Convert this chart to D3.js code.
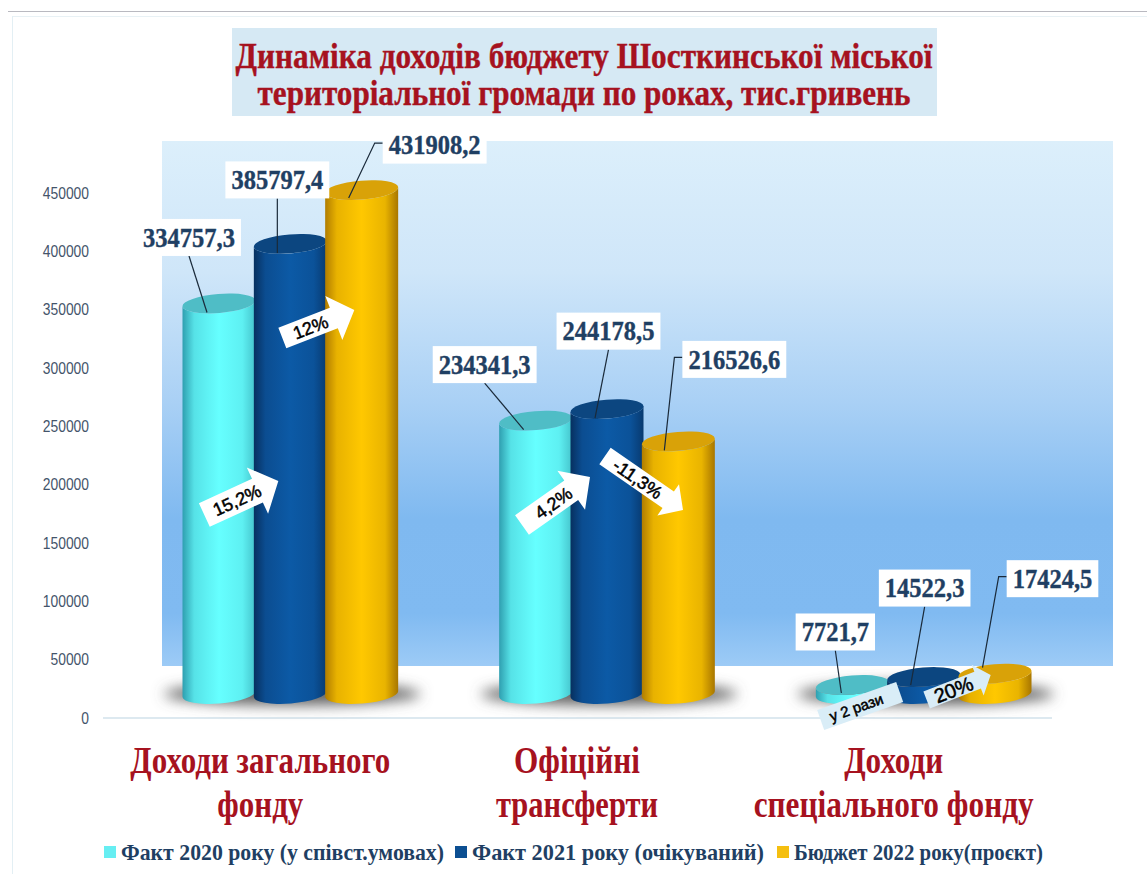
<!DOCTYPE html>
<html>
<head>
<meta charset="utf-8">
<script src="https://cdn.jsdelivr.net/npm/d3@7"></script>
<style>
  html, body { margin: 0; padding: 0; background: #fff; overflow: hidden; }
  svg { display: block; }
</style>
</head>
<body>
<script>
// Chart data
var categories = ["Доходи загального фонду", "Офіційні трансферти", "Доходи спеціального фонду"];
var seriesNames = ["Факт 2020 року (у співст.умовах)", "Факт 2021 року (очікуваний)", "Бюджет 2022 року(проєкт)"];
var fact2020 = [334757.3, 234341.3, 7721.7];
var fact2021 = [385797.4, 244178.5, 14522.3];
var budget2022 = [431908.2, 216526.6, 17424.5];
var yTicks = [0, 50000, 100000, 150000, 200000, 250000, 300000, 350000, 400000, 450000];
var titleLines = ["Динаміка доходів бюджету Шосткинської міської", "територіальної громади по роках, тис.гривень"];
var categoryLines = [["Доходи загального", "фонду"], ["Офіційні", "трансферти"], ["Доходи", "спеціального фонду"]];
var changeLabels = ["15,2%", "12%", "4,2%", "-11,3%", "у 2 рази", "20%"];

var width = 1147;
var height = 874;
var depth = 24; // the 3D floor sits this far above the value axis
var rx = 36.5;
var ry = 9.5;
var tilt = 3; // ellipses lean a little, left end lower than right
var serif = "'Liberation Serif', 'DejaVu Serif', serif";
var sans = "'Liberation Sans', Arial, sans-serif";

var svg = d3.select("body").append("svg").attr("width", width).attr("height", height);
var defs = svg.append("defs");

// Scales
var y = d3.scaleLinear().domain([0, 450000]).range([718, 193]);
var x0 = d3.scaleBand().domain(categories).range([132, 1082]);
var x1 = d3.scaleBand().domain(seriesNames).range([-107, 107]);

// Cylinder colours: side edge, side centre, far edge, top
var palette = [
  { left: "#2f9fb0", mid: "#66ffff", right: "#45c4cc", top: "#4fbdc6", key: "#66eef2" },
  { left: "#07305f", mid: "#0c5aa6", right: "#083a70", top: "#0c4680", key: "#0c4f92" },
  { left: "#b17d00", mid: "#ffc800", right: "#a87600", top: "#d9a208", key: "#f5bf10" }
];

palette.forEach(function (c, i) {
  var g = defs.append("linearGradient").attr("id", "side" + i);
  g.append("stop").attr("offset", "0%").attr("stop-color", c.left);
  g.append("stop").attr("offset", "16%").attr("stop-color", d3.interpolateRgb(c.left, c.mid)(0.7));
  g.append("stop").attr("offset", "50%").attr("stop-color", c.mid);
  g.append("stop").attr("offset", "82%").attr("stop-color", d3.interpolateRgb(c.right, c.mid)(0.75));
  g.append("stop").attr("offset", "100%").attr("stop-color", c.right);
});

var panelGradient = defs.append("linearGradient")
  .attr("id", "panel").attr("x1", 0).attr("y1", 0).attr("x2", 0).attr("y2", 1);
[["0%", "#dceffb"], ["25%", "#cfe6f9"], ["50%", "#a9d0f5"], ["72%", "#7fb9f0"], ["90%", "#80baf1"], ["100%", "#9dcbf6"]]
  .forEach(function (s) {
    panelGradient.append("stop").attr("offset", s[0]).attr("stop-color", s[1]);
  });

defs.append("filter").attr("id", "blur")
  .attr("x", "-20%").attr("y", "-100%").attr("width", "140%").attr("height", "300%")
  .append("feGaussianBlur").attr("stdDeviation", 7);

// Page frame
svg.append("line").attr("x1", 8).attr("x2", width).attr("y1", 11.5).attr("y2", 11.5)
  .attr("stroke", "#b9b9c0").attr("stroke-width", 1);
svg.append("line").attr("x1", 12).attr("x2", width).attr("y1", 16.5).attr("y2", 16.5)
  .attr("stroke", "#e8f1f5").attr("stroke-width", 1);
svg.append("line").attr("x1", 12.5).attr("x2", 12.5).attr("y1", 16).attr("y2", height)
  .attr("stroke", "#e3eff4").attr("stroke-width", 1);

// Title
svg.append("rect").attr("x", 232).attr("y", 28).attr("width", 705).attr("height", 88).attr("fill", "#d6e9f4");
svg.selectAll(".title").data(titleLines).join("text")
  .attr("class", "title")
  .attr("x", 584)
  .attr("y", function (d, i) { return 68 + i * 37; })
  .attr("text-anchor", "middle")
  .attr("textLength", function (d, i) { return [697, 653][i]; })
  .attr("lengthAdjust", "spacingAndGlyphs")
  .style("font", "bold 36px " + serif)
  .attr("fill", "#a6121f")
  .attr("stroke", "#a6121f")
  .attr("stroke-width", 0.4)
  .text(function (d) { return d; });

// Plot background
svg.append("rect").attr("x", 162).attr("y", 141).attr("width", 951).attr("height", 525).attr("fill", "url(#panel)");

// Value axis
var yAxis = svg.append("g")
  .attr("transform", "translate(89,0)")
  .call(d3.axisLeft(y).tickValues(yTicks).tickSize(0).tickPadding(0).tickFormat(d3.format("d")));
yAxis.select(".domain").remove();
yAxis.selectAll("text")
  .attr("fill", "#44546a")
  .attr("textLength", function (d) { return String(d).length * 7.7; })
  .attr("lengthAdjust", "spacingAndGlyphs")
  .style("font", "16px " + sans);

// Floor line
svg.append("line")
  .attr("x1", x0.range()[0] - 29).attr("x2", x0.range()[1] - 30)
  .attr("y1", y(0)).attr("y2", y(0))
  .attr("stroke", "#dde9f0").attr("stroke-width", 2);

// Shadows under each group
svg.selectAll(".shadow").data(categories).join("ellipse")
  .attr("class", "shadow")
  .attr("cx", function (d) { return x0(d) + x0.bandwidth() / 2 + 2; })
  .attr("cy", y(0) - depth)
  .attr("rx", 128)
  .attr("ry", 11)
  .attr("fill", "#5f5f5f")
  .attr("filter", "url(#blur)");

// Flatten to one record per cylinder
var values = [fact2020, fact2021, budget2022];
var bars = [];
categories.forEach(function (cat, c) {
  seriesNames.forEach(function (name, s) {
    bars.push({
      cat: c,
      series: s,
      value: values[s][c],
      cx: x0(cat) + x0.bandwidth() / 2 + x1(name) + x1.bandwidth() / 2,
      top: y(values[s][c]) - depth
    });
  });
});

// Cylinders
var base = y(0) - depth;
var lean = -Math.atan2(tilt, rx) * 180 / Math.PI;
var cyl = svg.selectAll(".cyl").data(bars).join("g").attr("class", "cyl");
cyl.append("path")
  .attr("d", function (d) {
    var arc = "A" + rx + "," + ry + " " + lean + " 0 ";
    return "M" + (d.cx - rx) + "," + (d.top + tilt) +
      "L" + (d.cx - rx) + "," + (base + tilt) +
      arc + "0 " + (d.cx + rx) + "," + (base - tilt) +
      "L" + (d.cx + rx) + "," + (d.top - tilt) +
      arc + "1 " + (d.cx - rx) + "," + (d.top + tilt) + "Z";
  })
  .attr("fill", function (d) { return "url(#side" + d.series + ")"; });
cyl.append("ellipse")
  .attr("cx", function (d) { return d.cx; })
  .attr("cy", function (d) { return d.top; })
  .attr("rx", Math.hypot(rx, tilt))
  .attr("ry", ry)
  .attr("transform", function (d) { return "rotate(" + lean + " " + d.cx + " " + d.top + ")"; })
  .attr("fill", function (d) { return palette[d.series].top; });

// Change arrows, placed from the group centre and the value axis zero
var arrowLayout = [
  { cat: 0, tail: [-86, -203], tip: [-12, -237], thick: 26, headW: 51, headL: 23, size: 18, t: 0.44, fill: "#fff" },
  { cat: 0, tail: [-8, -380], tip: [64, -408], thick: 22, headW: 47, headL: 22, size: 18, t: 0.39, fill: "#fff" },
  { cat: 1, tail: [-85, -193], tip: [-17, -241], thick: 24, headW: 48, headL: 23, size: 18, t: 0.46, fill: "#fff" },
  { cat: 1, tail: [-2, -262], tip: [76, -208], thick: 20, headW: 38, headL: 18, size: 18, t: 0.42, fill: "#fff" },
  { cat: 2, tail: [-103, 2], tip: [-24, -26], thick: 21, headW: 21, headL: 0, size: 15, t: 0.45, fill: "#d9edf7" },
  { cat: 2, tail: [3, -18], tip: [67, -43], thick: 18, headW: 33, headL: 14, size: 20, t: 0.42, fill: "#d9edf7" }
];

var arrows = svg.selectAll(".arrow").data(arrowLayout).join("g")
  .attr("class", "arrow")
  .attr("transform", function (d) {
    var a = Math.atan2(d.tip[1] - d.tail[1], d.tip[0] - d.tail[0]) * 180 / Math.PI;
    var gx = x0(categories[d.cat]) + x0.bandwidth() / 2 + d.tail[0];
    return "translate(" + gx + "," + (y(0) + d.tail[1]) + ") rotate(" + a + ")";
  });
arrows.append("path")
  .attr("d", function (d) {
    var len = Math.hypot(d.tip[0] - d.tail[0], d.tip[1] - d.tail[1]);
    var b = len - d.headL;
    return d3.line()([
      [0, -d.thick / 2], [b, -d.thick / 2], [b, -d.headW / 2], [len, 0],
      [b, d.headW / 2], [b, d.thick / 2], [0, d.thick / 2]
    ]) + "Z";
  })
  .attr("fill", function (d) { return d.fill; });
arrows.append("text")
  .attr("x", function (d) { return Math.hypot(d.tip[0] - d.tail[0], d.tip[1] - d.tail[1]) * d.t; })
  .attr("dy", "0.36em")
  .attr("text-anchor", "middle")
  .style("font", function (d) { return d.size + "px " + sans; })
  .attr("fill", "#000")
  .attr("stroke", "#000")
  .attr("stroke-width", 0.5)
  .text(function (d, i) { return changeLabels[i]; });

// Value labels: offset of the box from its cylinder top, and where the leader lands
var labelDx = [-30, -13, 73, -51, 1.5, 56, -17, 1, 57.5];
var labelDy = [-66, -64, -45, -56, -78, -82, -53, -89, -95];
var leaderEnd = [[-12, 9], [-13, 9], [-13, 8], [-12, 9], [-12, 9], [-14, 9], [-11, 8], [-13, 8], [-12.5, -6]];
var boxH = 37;

var fmt = function (v) { return d3.format(".1f")(v).replace(".", ","); };

var labels = svg.selectAll(".label").data(bars).join("g").attr("class", "label");
labels.each(function (d, i) {
  var g = d3.select(this);
  var lx = d.cx + labelDx[i];
  var ly = d.top + labelDy[i];
  var text = g.append("text")
    .attr("x", lx).attr("y", ly)
    .attr("dy", "0.34em")
    .attr("text-anchor", "middle")
    .style("font", "bold 24.5px " + serif)
    .attr("fill", "#1f3f63")
    .attr("stroke", "#1f3f63")
    .attr("stroke-width", 0.4)
    .text(fmt(d.value));
  var natural = text.node().getComputedTextLength();
  // Same width as 24.5px but drawn taller, like the squeezed original
  text.style("font", "bold 27px " + serif)
    .attr("textLength", natural)
    .attr("lengthAdjust", "spacingAndGlyphs");
  var w = natural + 12;
  var end = [d.cx + leaderEnd[i][0], d.top + leaderEnd[i][1]];
  // Budget labels sit to the side, so their leader has a short elbow
  var pts = d.series === 2
    ? [[lx - w / 2, ly - 2], [lx - w / 2 - 8, ly - 2], end]
    : [[lx, ly + boxH / 2], end];
  g.insert("path", "text")
    .attr("d", d3.line()(pts))
    .attr("fill", "none")
    .attr("stroke", "#1a2a3a")
    .attr("stroke-width", 1.2);
  g.insert("rect", "text")
    .attr("x", lx - w / 2).attr("y", ly - boxH / 2)
    .attr("width", w).attr("height", boxH)
    .attr("fill", "#fff");
});

// Category labels
var catWidths = [[260, 86], [126, 162], [99, 280]];
categoryLines.forEach(function (lines, c) {
  svg.selectAll(".cat" + c).data(lines).join("text")
    .attr("class", "cat" + c)
    .attr("x", x0(categories[c]) + x0.bandwidth() / 2 - 30)
    .attr("y", function (d, i) { return 773 + i * 44; })
    .attr("text-anchor", "middle")
    .attr("textLength", function (d, i) { return catWidths[c][i]; })
    .attr("lengthAdjust", "spacingAndGlyphs")
    .style("font", "bold 38px " + serif)
    .attr("fill", "#a6121f")
    .text(function (d) { return d; });
});

// Legend
var legendX = [104, 455, 777];
var legendWidths = [323, 292, 249];
var legend = svg.selectAll(".legend").data(seriesNames).join("g")
  .attr("class", "legend")
  .attr("transform", function (d, i) { return "translate(" + legendX[i] + ",852)"; });
legend.append("rect")
  .attr("y", -6).attr("width", 12).attr("height", 12)
  .attr("fill", function (d, i) { return palette[i].key; });
legend.append("text")
  .attr("x", 17)
  .attr("dy", "0.34em")
  .attr("textLength", function (d, i) { return legendWidths[i]; })
  .attr("lengthAdjust", "spacingAndGlyphs")
  .style("font", "bold 24px " + serif)
  .attr("fill", "#1f3f63")
  .text(function (d) { return d; });
</script>
</body>
</html>
